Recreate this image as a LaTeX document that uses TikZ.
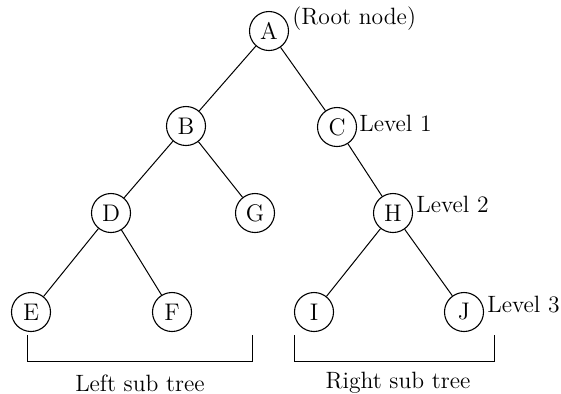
\documentclass[tikz,border=0pt]{standalone}
\usepackage{tikz}

\begin{document}
\begin{tikzpicture}[x=0.5pt,y=-0.5pt,
    treenode/.style={draw,circle,line width=0.55pt,minimum size=19.5pt,inner sep=0pt,font=\fontsize{12}{14}\selectfont},
    lbl/.style={font=\fontsize{11.8}{14}\selectfont,inner sep=1pt},
    edge/.style={line width=0.5pt}]
  \useasboundingbox (0,0) rectangle (561,393);
  % nodes
  \node[treenode] (A) at (269,31) {A};
  \node[treenode] (B) at (186,126) {B};
  \node[treenode] (C) at (337,127) {C};
  \node[treenode] (D) at (111,213) {D};
  \node[treenode] (G) at (255,213) {G};
  \node[treenode] (H) at (393,213) {H};
  \node[treenode] (E) at (31,312) {E};
  \node[treenode] (F) at (172,312) {F};
  \node[treenode] (I) at (314,312) {I};
  \node[treenode] (J) at (464,312) {J};
  % edges
  \draw[edge] (A) -- (B);
  \draw[edge] (A) -- (C);
  \draw[edge] (B) -- (D);
  \draw[edge] (B) -- (G);
  \draw[edge] (C) -- (H);
  \draw[edge] (D) -- (E);
  \draw[edge] (D) -- (F);
  \draw[edge] (H) -- (I);
  \draw[edge] (H) -- (J);
  % labels
  \node[lbl,anchor=west] (root) at (290,19) {(Root node)};
  \node[lbl,anchor=west] (lev1) at (357,123) {Level 1};
  \node[lbl,anchor=west] (lev2) at (414,204) {Level 2};
  \node[lbl,anchor=west] (lev3) at (485,305) {Level 3};
  % sub tree brackets
  \coordinate (ls) at (27,335);
  \coordinate (le) at (252,335);
  \coordinate (rs) at (294,335);
  \coordinate (re) at (494,335);
  \draw[edge] (ls) -- ++(0,26) -| (le);
  \draw[edge] (rs) -- ++(0,26) -| (re);
  \node[lbl] (left) at (140,383) {Left sub tree};
  \node[lbl] (right) at (398,383) {Right sub tree};
\end{tikzpicture}
\end{document}
